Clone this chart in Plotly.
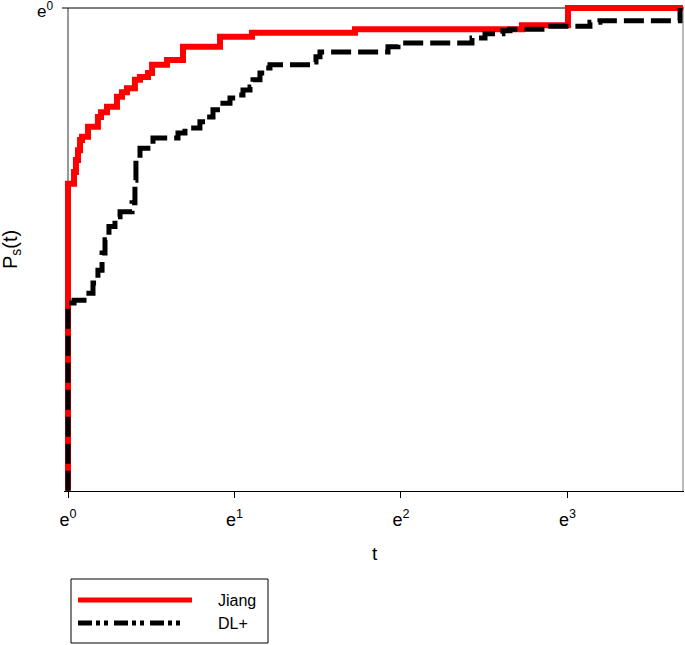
import math
import plotly.graph_objects as go

# ---- data ----
jiang_t = [1, 1, 1.037, 1.049, 1.062, 1.075, 1.088, 1.128, 1.197, 1.219, 1.264, 1.342, 1.383,
           1.425, 1.495, 1.541, 1.617, 1.657, 1.813, 1.995, 2.492, 3.020, 5.606, 15.28, 20.15, 40.2]
jiang_p = [0.368, 0.695, 0.712, 0.730, 0.745, 0.761, 0.766, 0.782, 0.798, 0.806, 0.815, 0.832, 0.840,
           0.847, 0.862, 0.867, 0.874, 0.889, 0.898, 0.923, 0.942, 0.950, 0.957, 0.965, 1.0, 1.0]

dl_t = [1, 1, 1.037, 1.101, 1.162, 1.197, 1.227, 1.249, 1.279, 1.326, 1.367, 1.469, 1.495, 1.504,
        1.541, 1.666, 1.936, 2.019, 2.209, 2.304, 2.389, 2.492, 2.646, 2.759, 2.861, 2.984, 3.038,
        3.168, 3.265, 3.364, 4.330, 4.435, 4.543, 6.835, 7.258, 11.32, 12.24, 13.63, 14.22, 17.23,
        22.99, 24.41, 39.49]
dl_p = [0.368, 0.543, 0.546, 0.554, 0.566, 0.581, 0.602, 0.619, 0.636, 0.649, 0.656, 0.668, 0.700,
        0.730, 0.748, 0.764, 0.772, 0.780, 0.790, 0.798, 0.810, 0.821, 0.830, 0.835, 0.844, 0.849,
        0.862, 0.874, 0.883, 0.889, 0.894, 0.904, 0.913, 0.923, 0.930, 0.940, 0.948, 0.954, 0.957,
        0.963, 0.971, 0.974, 1.0]

x_tick_powers = [0, 1, 2, 3]
x_tick_labels = ["e<sup>0</sup>", "e<sup>1</sup>", "e<sup>2</sup>", "e<sup>3</sup>"]
y_tick_labels = ["e<sup>0</sup>"]
series_names = ["Jiang", "DL+"]

L10E = math.log10(math.e)
FONT = "Liberation Sans, Arial, sans-serif"

# plot-area geometry (pixels)
W, H = 685, 645
PL, PR, PT, PB = 64, 684, 4, 491


def pxx(x):
    return (x - PL) / (PR - PL)


def pxy(y):
    return (PB - y) / (PB - PT)


fig = go.Figure()
fig.add_trace(go.Scatter(x=jiang_t, y=jiang_p, mode="lines", line_shape="hv",
                         line=dict(color="#ff0000", width=6), name=series_names[0],
                         showlegend=False))
fig.add_trace(go.Scatter(x=dl_t, y=dl_p, mode="lines", line_shape="hv",
                         line=dict(color="#000000", width=5, dash="20px,7px"),
                         name=series_names[1], showlegend=False))

x_lo, x_hi = -0.024 * L10E, 3.70 * L10E
y_lo, y_hi = -1.0 * L10E, 0.00828 * L10E

shapes = [
    # frame lines (left, top, right), under the curves
    dict(type="line", xref="paper", yref="paper", x0=pxx(68), x1=pxx(68), y0=pxy(491), y1=pxy(8),
         line=dict(color="#333333", width=1), layer="below"),
    dict(type="line", xref="paper", yref="paper", x0=pxx(62), x1=pxx(684), y0=pxy(8), y1=pxy(8),
         line=dict(color="#000000", width=1), layer="below"),
    dict(type="line", xref="paper", yref="paper", x0=pxx(683), x1=pxx(683), y0=pxy(491), y1=pxy(8),
         line=dict(color="#777777", width=1), layer="below"),
    # legend box
    dict(type="rect", xref="paper", yref="paper", x0=pxx(71), x1=pxx(268), y0=pxy(579), y1=pxy(643),
         line=dict(color="#000000", width=1), fillcolor="white"),
    dict(type="line", xref="paper", yref="paper", x0=pxx(78), x1=pxx(192), y0=pxy(600), y1=pxy(600),
         line=dict(color="#ff0000", width=5)),
    dict(type="line", xref="paper", yref="paper", x0=pxx(78), x1=pxx(184), y0=pxy(623), y1=pxy(623),
         line=dict(color="#000000", width=5, dash="14px,4px,4px,4px,4px,6px")),
]

annotations = [
    dict(xref="paper", yref="paper", x=pxx(216), y=pxy(600), text=series_names[0], showarrow=False,
         xanchor="left", yanchor="middle", font=dict(family=FONT, size=16, color="black")),
    dict(xref="paper", yref="paper", x=pxx(216), y=pxy(623), text=series_names[1], showarrow=False,
         xanchor="left", yanchor="middle", font=dict(family=FONT, size=16, color="black")),
    # axis titles
    dict(xref="paper", yref="paper", x=pxx(375), y=pxy(553), text="t", showarrow=False,
         xanchor="center", yanchor="middle", font=dict(family=FONT, size=19, color="black")),
    dict(xref="paper", yref="paper", x=pxx(11), y=pxy(250), text="P<sub>s</sub>(t)", showarrow=False,
         textangle=-90, xanchor="center", yanchor="middle",
         font=dict(family=FONT, size=20, color="black")),
]

fig.update_layout(
    template="none",
    width=W, height=H,
    margin=dict(l=PL, r=W - PR, t=PT, b=H - PB, autoexpand=False),
    paper_bgcolor="white", plot_bgcolor="rgba(0,0,0,0)",
    font=dict(family=FONT, color="black"),
    shapes=shapes, annotations=annotations,
    xaxis=dict(type="log", range=[x_lo, x_hi], automargin=False,
               tickvals=[math.e ** k for k in x_tick_powers], ticktext=x_tick_labels,
               ticks="outside", ticklen=6, tickcolor="black", tickwidth=1,
               showline=True, linecolor="black", linewidth=1, mirror=False,
               showgrid=False, zeroline=False, ticklabeloverflow="allow",
               ticklabelstandoff=6,
               tickfont=dict(family=FONT, size=18, color="black")),
    yaxis=dict(type="log", range=[y_lo, y_hi], automargin=False,
               tickvals=[1], ticktext=y_tick_labels,
               ticks="", showline=False, showgrid=False, zeroline=False,
               ticklabeloverflow="allow",
               ticklabelstandoff=10, ticklabelshift=3,
               tickfont=dict(family=FONT, size=17, color="black")),
)

fig.write_html("out.html", config={"displayModeBar": False},
               post_script="document.body.style.margin='0';document.body.style.overflow='hidden';")
